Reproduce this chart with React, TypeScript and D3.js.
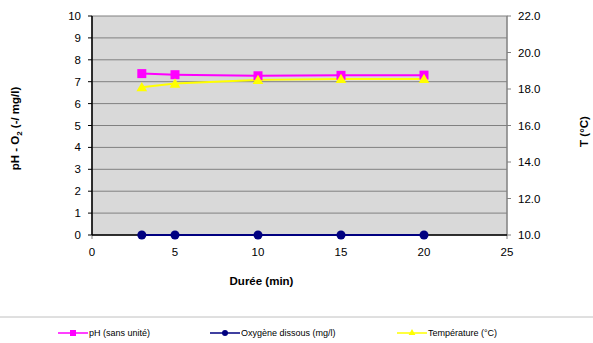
import React from "react";
import * as d3 from "d3";

const durations = [3, 5, 10, 15, 20];
const phValues = [7.37, 7.32, 7.27, 7.29, 7.3];
const oxygenValues = [0, 0, 0, 0, 0];
const tempValues = [18.1, 18.3, 18.5, 18.55, 18.55];
const xTicks = [0, 5, 10, 15, 20, 25];
const leftTicks = [0, 1, 2, 3, 4, 5, 6, 7, 8, 9, 10];
const rightTicks = [10, 12, 14, 16, 18, 20, 22];

const W = 593, H = 343;
const L = 92, R = 507, T = 16, B = 235;
const font = "'Liberation Sans', Arial, sans-serif";

export default function App() {
  const x = d3.scaleLinear().domain([0, 25]).range([L, R]);
  const yL = d3.scaleLinear().domain([0, 10]).range([B, T]);
  const yR = d3.scaleLinear().domain([10, 22]).range([B, T]);

  const lineL = d3.line<number>().x((_, i) => x(durations[i])).y((d) => yL(d));
  const lineR = d3.line<number>().x((_, i) => x(durations[i])).y((d) => yR(d));
  const tri = d3.symbol().type(d3.symbolTriangle).size(50)();

  return (
    <svg width={W} height={H} style={{ position: "absolute", left: 0, top: 0 }} fontFamily={font}>
      <rect x={0} y={0} width={W} height={H} fill="#fff" />
      <rect x={L} y={T} width={R - L} height={B - T} fill="#D9D9D9" stroke="#808080" />
      {leftTicks.map((t) => (
        <g key={"gl" + t}>
          {t > 0 && t < 10 && <line x1={L} x2={R} y1={yL(t)} y2={yL(t)} stroke="#808080" strokeWidth={1} />}
          <line x1={L - 4} x2={L} y1={yL(t)} y2={yL(t)} stroke="#000" />
          <text x={L - 11} y={yL(t)} dy="0.35em" textAnchor="end" fontSize={11.5}>{t}</text>
        </g>
      ))}
      {rightTicks.map((t) => (
        <g key={"gr" + t}>
          <line x1={R} x2={R + 4} y1={yR(t)} y2={yR(t)} stroke="#808080" />
          <text x={R + 11} y={yR(t)} dy="0.35em" textAnchor="start" fontSize={11.5}>{t.toFixed(1)}</text>
        </g>
      ))}
      {xTicks.map((t) => (
        <g key={"gx" + t}>
          <line x1={x(t)} x2={x(t)} y1={B} y2={B + 4} stroke="#808080" />
          <text x={x(t)} y={B + 17} dy="0.35em" textAnchor="middle" fontSize={11.5}>{t}</text>
        </g>
      ))}
      <line x1={R} x2={R} y1={T} y2={B} stroke="#808080" />
      <line x1={L} x2={L} y1={T} y2={B} stroke="#000" strokeWidth={1.5} />
      <line x1={L} x2={R} y1={B} y2={B} stroke="#000" strokeWidth={1.5} />

      <path d={lineL(oxygenValues) || ""} fill="none" stroke="#000080" strokeWidth={2} />
      {oxygenValues.map((v, i) => (
        <circle key={"o" + i} cx={x(durations[i])} cy={yL(v)} r={4.5} fill="#000080" />
      ))}
      <path d={lineR(tempValues) || ""} fill="none" stroke="#FFFF00" strokeWidth={2} />
      <path d={lineL(phValues) || ""} fill="none" stroke="#FF00FF" strokeWidth={2} />
      {phValues.map((v, i) => (
        <rect key={"p" + i} x={x(durations[i]) - 4.5} y={yL(v) - 4.5} width={9} height={9} fill="#FF00FF" />
      ))}
      {tempValues.map((v, i) => (
        <path key={"t" + i} d={tri || ""} transform={`translate(${x(durations[i])},${yR(v) + 1})`} fill="#FFFF00" />
      ))}

      <text transform={`translate(19,${(T + B) / 2 + 3}) rotate(-90)`} textAnchor="middle" fontSize={11.5} fontWeight="bold">
        pH - O<tspan fontSize={8} dy="3">2</tspan><tspan dy="-3"> (-/ mg/l)</tspan>
      </text>
      <text transform={`translate(588,${(T + B) / 2 + 6}) rotate(-90)`} textAnchor="middle" fontSize={11.5} fontWeight="bold">T (°C)</text>
      <text x={(L + R) / 2 - 38} y={281} dy="0.35em" textAnchor="middle" fontSize={11.5} fontWeight="bold">Durée (min)</text>

      <line x1={0} x2={W} y1={317} y2={317} stroke="#C0C0C0" />
      {[
        { x0: 58, label: "pH (sans unité)", color: "#FF00FF", kind: "sq" },
        { x0: 210, label: "Oxygène dissous (mg/l)", color: "#000080", kind: "ci" },
        { x0: 397, label: "Température (°C)", color: "#FFFF00", kind: "tr" },
      ].map((it) => (
        <g key={it.label}>
          <line x1={it.x0} x2={it.x0 + 30} y1={333} y2={333} stroke={it.color} strokeWidth={1.5} />
          {it.kind === "sq" && <rect x={it.x0 + 12} y={330} width={6} height={6} fill={it.color} />}
          {it.kind === "ci" && <circle cx={it.x0 + 15} cy={333} r={3} fill={it.color} />}
          {it.kind === "tr" && <path d={d3.symbol().type(d3.symbolTriangle).size(20)() || ""} transform={`translate(${it.x0 + 15},333)`} fill={it.color} />}
          <text x={it.x0 + 31} y={333} dy="0.35em" fontSize={9}>{it.label}</text>
        </g>
      ))}
    </svg>
  );
}
